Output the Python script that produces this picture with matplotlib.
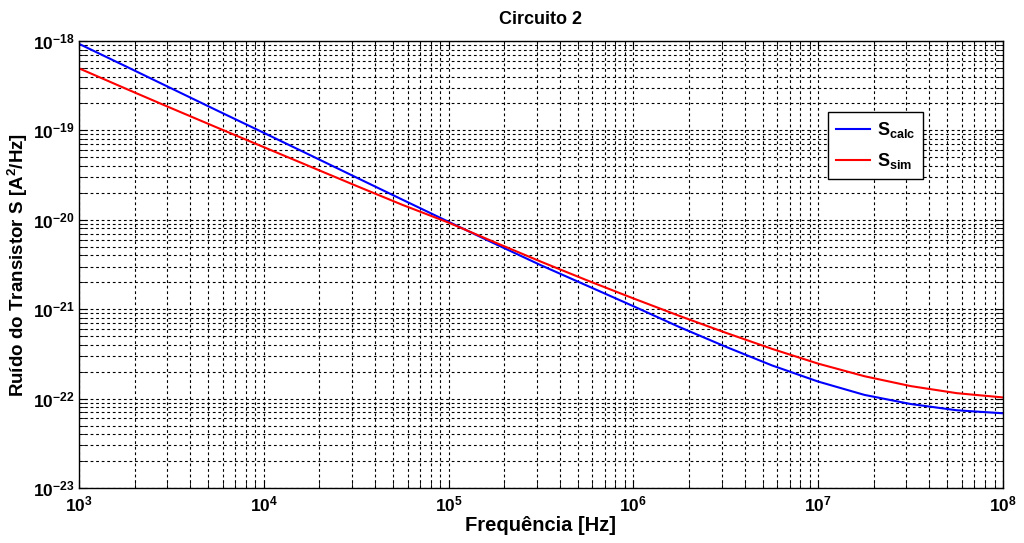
import matplotlib
matplotlib.use("Agg")
import matplotlib.pyplot as plt
import matplotlib.ticker as mticker
import numpy as np

plt.rcParams['font.family'] = ['Liberation Sans', 'DejaVu Sans']
plt.rcParams['mathtext.fontset'] = 'custom'
plt.rcParams['mathtext.rm'] = 'Liberation Sans'
plt.rcParams['mathtext.bf'] = 'Liberation Sans:bold'
plt.rcParams['mathtext.it'] = 'Liberation Sans:italic'

# dados (log10 da frequencia)
log_freq = [3.00, 3.25, 3.50, 3.75, 4.00, 4.25, 4.50, 4.75, 5.00, 5.25, 5.50,
            5.75, 6.00, 6.25, 6.50, 6.75, 7.00, 7.25, 7.50, 7.75, 8.00]
s_calc = [9.3e-19, 5.25e-19, 2.95e-19, 1.66e-19, 9.4e-20, 5.3e-20, 2.98e-20,
          1.68e-20, 9.5e-21, 5.4e-21, 3.1e-21, 1.83e-21, 1.08e-21, 6.3e-22,
          3.8e-22, 2.35e-22, 1.55e-22, 1.1e-22, 8.7e-23, 7.4e-23, 6.85e-23]
s_sim = [4.95e-19, 2.95e-19, 1.77e-19, 1.07e-19, 6.5e-20, 3.95e-20, 2.4e-20,
         1.47e-20, 9.3e-21, 5.6e-21, 3.4e-21, 2.1e-21, 1.32e-21, 8.4e-22,
         5.45e-22, 3.6e-22, 2.46e-22, 1.78e-22, 1.38e-22, 1.15e-22, 1.03e-22]
freq = [10 ** v for v in log_freq]

x_exps = [3, 4, 5, 6, 7, 8]
y_exps = [-23, -22, -21, -20, -19, -18]

fig = plt.figure(figsize=(10.24, 5.43), dpi=100)
ax = fig.add_axes([0.0771, 0.1013, 0.9024, 0.8232])

ax.loglog(freq, s_calc, color='#0000ff', linewidth=1.5, label=r'$\mathbf{S_{calc}}$')
ax.loglog(freq, s_sim, color='#ff0000', linewidth=1.5, label=r'$\mathbf{S_{sim}}$')

ax.set_xlim(1e3, 1e8)
ax.set_ylim(1e-23, 1e-18)

ax.set_xticks([10.0 ** e for e in x_exps])
ax.set_yticks([10.0 ** e for e in y_exps])
ax.set_xticklabels([r'$\mathbf{10^{%d}}$' % e for e in x_exps])
ax.set_yticklabels([r'$\mathbf{10^{%d}}$' % e for e in y_exps])
x_minor = [m * 10.0 ** e for e in x_exps[:-1] for m in range(2, 10)]
y_minor = [m * 10.0 ** e for e in y_exps[:-1] for m in range(2, 10)]
ax.set_xticks(x_minor, minor=True)
ax.set_yticks(y_minor, minor=True)
ax.xaxis.set_minor_formatter(mticker.NullFormatter())
ax.yaxis.set_minor_formatter(mticker.NullFormatter())

ax.grid(True, which='both', linestyle=(0, (2.5, 2.5)), color='black', linewidth=0.8)
ax.tick_params(which='both', direction='in', top=True, right=True, labelsize=12.5)
ax.tick_params(which='major', length=6)
ax.tick_params(which='minor', length=4)
ax.tick_params(axis='x', pad=5)
ax.tick_params(axis='y', pad=3)
for s in ax.spines.values():
    s.set_linewidth(1.0)

ax.set_title('Circuito 2', fontsize=13, fontweight='bold', pad=12)
ax.set_xlabel('Frequência [Hz]', fontsize=14.5, fontweight='bold')
ax.set_ylabel(r'Ruído do Transistor S [A$^\mathbf{2}$/Hz]', fontsize=13.5, fontweight='bold')
ax.xaxis.set_label_coords(0.5, -0.062)
ax.yaxis.set_label_coords(-0.053, 0.5)

leg = ax.legend(loc='upper left', bbox_to_anchor=(0.8106, 0.841), borderaxespad=0,
                fontsize=13, fancybox=False, edgecolor='black', framealpha=1,
                handlelength=1.9, borderpad=0.45, labelspacing=0.6, handletextpad=0.35)
leg.get_frame().set_linewidth(1.0)

fig.savefig('out.png', dpi=100)
